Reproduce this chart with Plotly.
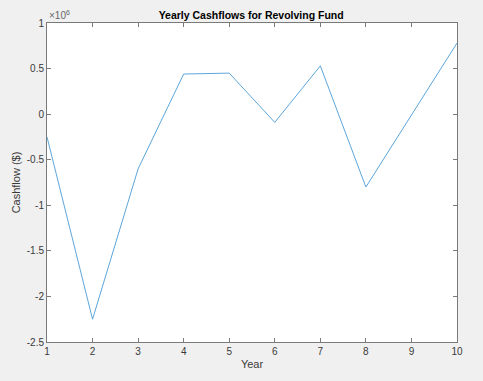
import plotly.graph_objects as go

years = [1, 2, 3, 4, 5, 6, 7, 8, 9, 10]
cashflow = [-250000, -2250000, -600000, 440000, 450000, -90000, 530000, -800000, -10000, 780000]
ytick_vals = [1e6, 0.5e6, 0, -0.5e6, -1e6, -1.5e6, -2e6, -2.5e6]
ytick_text = ["1", "0.5", "0", "-0.5", "-1", "-1.5", "-2", "-2.5"]
xtick_vals = years

axcol = "#3a3a3a"
fnt = "Liberation Sans, Arial"
fig = go.Figure()
fig.add_trace(go.Scatter(x=years, y=cashflow, mode="lines",
                         line=dict(color="#4a9bd6", width=0.9), showlegend=False))

axis_common = dict(showline=True, linecolor="#7a7a7a", linewidth=1, mirror="ticks",
                   ticks="inside", ticklen=4, tickcolor="#7a7a7a", showgrid=False,
                   zeroline=False, tickfont=dict(family=fnt, size=10, color=axcol))
fig.update_layout(
    width=483, height=381,
    paper_bgcolor="#f0f0f0", plot_bgcolor="#ffffff",
    margin=dict(l=47, r=26, t=23, b=36),
    title=dict(text="<b>Yearly Cashflows for Revolving Fund</b>", x=0.52, xanchor="center",
               y=0.96, yanchor="middle",
               font=dict(family=fnt, size=10.5, color="#000000")),
    xaxis=dict(range=[1, 10], tickvals=xtick_vals,
               title=dict(text="Year", standoff=4, font=dict(family=fnt, size=11, color=axcol)),
               **axis_common),
    yaxis=dict(range=[-2.5e6, 1e6], tickvals=ytick_vals, ticktext=ytick_text,
               title=dict(text="Cashflow ($)", standoff=3, font=dict(family=fnt, size=11, color=axcol)),
               **axis_common),
    annotations=[dict(text="×10<sup>6</sup>", xref="paper", yref="paper", x=0, y=1,
                      xanchor="left", yanchor="bottom", showarrow=False, xshift=0, yshift=0,
                      font=dict(family=fnt, size=10, color="#666666"))],
)
fig.write_html("out.html")
